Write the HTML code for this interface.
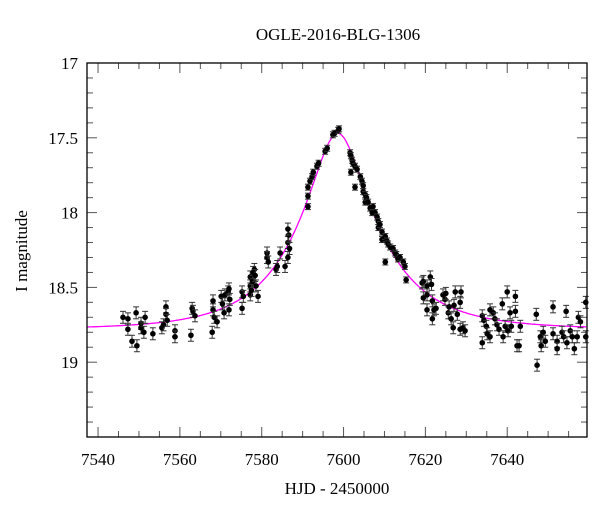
<!DOCTYPE html>
<html><head><meta charset="utf-8"><style>
body{margin:0;background:#fff;}
svg text{font-family:"Liberation Serif",serif;fill:#000;}
</style></head><body>
<svg id="chart" width="600" height="512" viewBox="0 0 600 512" xmlns="http://www.w3.org/2000/svg">
<text x="338" y="40" font-size="17" text-anchor="middle">OGLE-2016-BLG-1306</text>
<text x="337" y="494" font-size="17" text-anchor="middle">HJD - 2450000</text>
<text transform="translate(27,251) rotate(-90)" font-size="17" text-anchor="middle">I magnitude</text>
<g id="ticks"></g>
<g id="model"></g>
<g id="points"></g>
<rect x="87" y="63" width="500" height="374" fill="none" stroke="#000" stroke-width="1.3"/>
</svg>
<script>
const xTicks=[7540,7560,7580,7600,7620,7640];
const yTicks=[17,17.5,18,18.5,19];
const yTickLabels=["17","17.5","18","18.5","19"];
const obsT=[7546.1,7547.3,7547.3,7548.3,7549.3,7549.5,7550.5,7550.5,7551.2,7551.5,7553.4,7555.6,7556.0,7556.6,7556.6,7556.9,7558.8,7558.8,7562.7,7563.0,7563.2,7563.7,7567.9,7568.1,7568.1,7568.4,7569.1,7570.1,7570.4,7570.8,7571.0,7571.8,7572.0,7572.2,7572.0,7575.2,7575.2,7575.5,7577.2,7577.2,7577.2,7577.5,7577.8,7577.9,7578.2,7578.4,7578.6,7579.1,7581.3,7581.3,7581.6,7583.5,7583.8,7584.5,7585.7,7586.4,7586.4,7586.6,7586.4,7586.8,
7591.3,7591.3,7591.3,7591.8,7592.3,7592.6,7593.5,7593.9,7595.5,7596.0,7597.4,7597.8,7598.7,7598.9,
7601.6,7601.8,7601.8,7602.1,7602.3,7602.8,7602.8,7603.3,7604.1,7604.5,7604.8,7604.8,7605.3,7605.3,7605.6,7606.0,7606.5,7607.0,7607.2,7607.7,7608.2,7608.5,7608.5,7608.9,7609.4,7609.4,7610.2,7610.2,7610.6,7610.9,7611.4,7612.1,7612.6,7612.9,7613.3,7613.8,7614.6,7615.0,7615.3,
7619.2,7619.5,7619.5,7620.4,7620.4,7620.4,7621.2,7621.5,7621.7,7621.7,7622.1,7622.6,7624.3,7624.8,7625.0,7625.6,7625.8,7626.3,7626.8,7627.0,7627.3,7627.8,7628.5,7628.7,7628.5,7629.2,7629.7,
7633.9,7633.9,7634.3,7634.9,7635.1,7635.8,7635.8,7636.6,7637.0,7637.5,7638.0,7638.8,7639.0,7639.5,7640.0,7640.2,7640.7,7641.0,7642.0,7642.0,7642.4,7642.9,7643.2,
7647.1,7647.3,7648.1,7648.3,7648.8,7649.3,7651.2,7651.2,7652.2,7652.2,7653.4,7653.8,7654.4,7654.6,7655.4,7655.9,7656.4,7657.1,7657.4,7657.9,7659.2,7659.2];
const obsMag=[18.70,18.71,18.78,18.86,18.67,18.89,18.74,18.77,18.80,18.70,18.81,18.77,18.75,18.63,18.68,18.72,18.79,18.83,18.82,18.64,18.66,18.69,18.80,18.59,18.65,18.70,18.73,18.56,18.61,18.67,18.55,18.53,18.51,18.58,18.65,18.64,18.53,18.56,18.43,18.49,18.55,18.52,18.46,18.40,18.38,18.42,18.49,18.56,18.27,18.30,18.33,18.38,18.36,18.27,18.36,18.30,18.20,18.15,18.11,18.24,
17.96,17.89,17.83,17.79,17.76,17.73,17.69,17.67,17.59,17.57,17.48,17.47,17.45,17.44,
17.60,17.62,17.73,17.65,17.67,17.69,17.83,17.71,17.76,17.79,17.82,17.86,17.88,17.93,17.90,17.93,17.97,18.00,17.96,18.00,18.03,18.06,18.10,18.08,18.13,18.18,18.16,18.33,18.19,18.21,18.23,18.24,18.27,18.28,18.31,18.30,18.33,18.36,18.45,
18.47,18.46,18.57,18.49,18.65,18.55,18.43,18.48,18.59,18.71,18.65,18.64,18.55,18.58,18.54,18.67,18.63,18.71,18.77,18.62,18.53,18.68,18.60,18.53,18.78,18.77,18.79,
18.69,18.87,18.72,18.76,18.81,18.65,18.83,18.67,18.71,18.75,18.78,18.61,18.83,18.76,18.53,18.79,18.67,18.76,18.56,18.66,18.89,18.89,18.76,
18.68,19.02,18.83,18.89,18.80,18.86,18.63,18.81,18.86,18.91,18.80,18.83,18.66,18.87,18.79,18.83,18.91,18.83,18.70,18.73,18.60,18.83];
const obsErr=obsT.map(t=>(t>7588&&t<7616)?0.02:0.04);
// model parameters
const t0=7598.6, tE=19.5, u0=0.31, fs=1.0, baseMag=18.78;
const X0=87,X1=587,Y0=63,Y1=437,tMin=7537.3,tMax=7659.5,mMin=17,mMax=19.5;
const xs=t=>X0+(t-tMin)/(tMax-tMin)*(X1-X0);
const ys=m=>Y0+(m-mMin)/(mMax-mMin)*(Y1-Y0);
const NS="http://www.w3.org/2000/svg";
function mk(tag,attrs,parent){const e=document.createElementNS(NS,tag);for(const k in attrs)e.setAttribute(k,attrs[k]);parent.appendChild(e);return e;}
const tg=document.getElementById('ticks');
for(let t=7540;t<=7659;t+=5){const major=(t%20===0);const L=major?10:6;
 const a=mk('line',{x1:xs(t),x2:xs(t),y1:Y1,y2:Y1-L,stroke:'#555','stroke-width':1},tg);
 
 
 const b=mk('line',{x1:xs(t),x2:xs(t),y1:Y0,y2:Y0+L,stroke:'#555','stroke-width':1},tg);
 
 }
xTicks.forEach(t=>{const e=mk('text',{x:xs(t),y:465,'font-size':17,'text-anchor':'middle'},tg);e.textContent=t;
 
 });
for(let i=0;i<=25;i++){const m=17+i*0.1;const major=(i%5===0);const L=major?10:6;
 const a=mk('line',{x1:X0,x2:X0+L,y1:ys(m),y2:ys(m),stroke:'#555','stroke-width':1},tg);
 
 
 const b=mk('line',{x1:X1,x2:X1-L,y1:ys(m),y2:ys(m),stroke:'#555','stroke-width':1},tg);
 
 }
yTicks.forEach((m,i)=>{const e=mk('text',{x:78,y:ys(m)+6,'font-size':17,'text-anchor':'end'},tg);e.textContent=yTickLabels[i];
 
 });
// model curve
let d='';
for(let t=tMin;t<=tMax;t+=0.25){const u=Math.sqrt(u0*u0+((t-t0)/tE)**2);const A=(u*u+2)/(u*Math.sqrt(u*u+4));const m=baseMag-2.5*Math.log10(fs*A+1-fs);d+=(d?'L':'M')+xs(t).toFixed(1)+','+ys(m).toFixed(1);}
const mp=mk('path',{d:d,fill:'none',stroke:'#ff00ff','stroke-width':1.3},document.getElementById('model'));


const pg=document.getElementById('points');
obsT.forEach((t,i)=>{const x=xs(t),y=ys(obsMag[i]),e=obsErr[i];
 const g=mk('g',{},pg);
 
 
 mk('line',{x1:x,x2:x,y1:ys(obsMag[i]-e),y2:ys(obsMag[i]+e),stroke:'#333','stroke-width':1},g);
 mk('line',{x1:x-3,x2:x+3,y1:ys(obsMag[i]-e),y2:ys(obsMag[i]-e),stroke:'#333','stroke-width':1},g);
 mk('line',{x1:x-3,x2:x+3,y1:ys(obsMag[i]+e),y2:ys(obsMag[i]+e),stroke:'#333','stroke-width':1},g);
 mk('circle',{cx:x,cy:y,r:2.8,fill:'#000'},g);});
</script>
</body></html>
